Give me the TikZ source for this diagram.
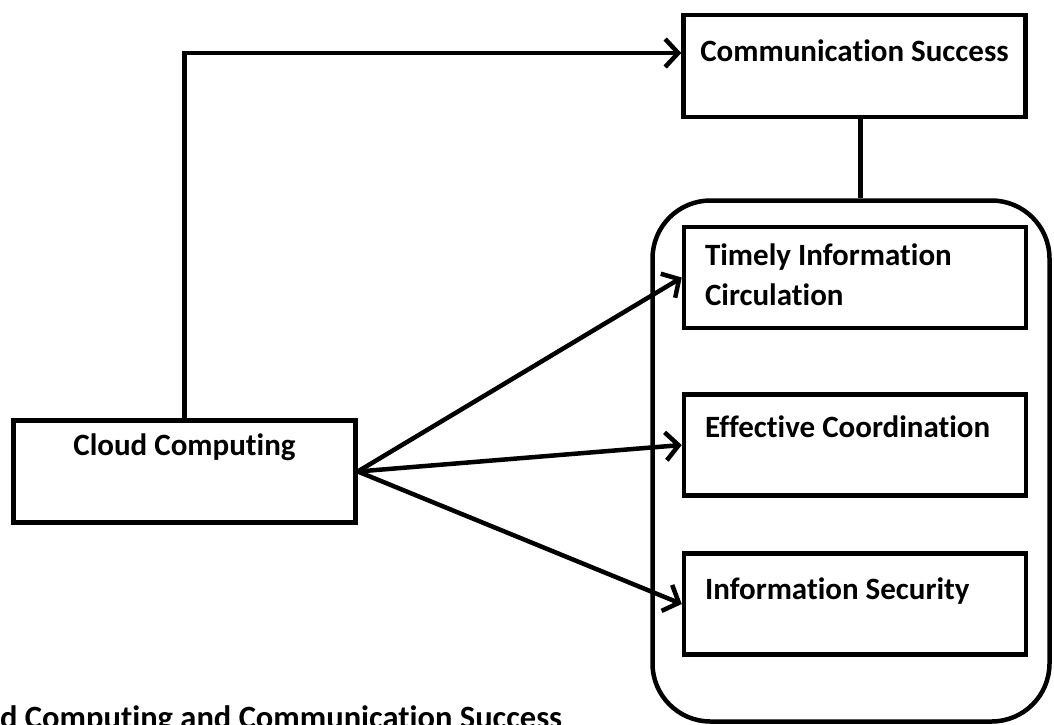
\documentclass[tikz,border=0pt]{standalone}
\usepackage{fontspec}
\setmainfont{Carlito}[Ligatures=NoCommon]
\usetikzlibrary{shapes.geometric, arrows.meta}
\tikzstyle{box} = [rectangle, draw=black, line width=4.5pt, minimum width=342pt, inner sep=0pt, font=\bfseries\fontsize{31}{40}\selectfont]
\tikzstyle{group} = [rectangle, rounded corners=58pt, draw=black, line width=4.5pt, minimum width=397pt, minimum height=521pt]
\tikzstyle{line} = [line width=4.5pt]
\tikzstyle{arrow} = [line width=4.5pt, -{Straight Barb[length=13pt,width=28pt]}]
\newcommand{\lefttext}[1]{\parbox[t]{300pt}{\raggedright #1}}

\begin{document}
\begin{tikzpicture}[x=1pt, y=1pt]
\useasboundingbox (0,0) rectangle (1054,-724);
\node (cloud) [box, text height=35pt, text depth=67pt] at (184.5,-471.5) {Cloud Computing};
\node (success) [box, text height=46pt, text depth=56pt] at (854.5,-66) {Communication Success};
\node (group) [group] at (851,-461) {};
\node (timely) [box, text height=38pt, text depth=63pt] at (855,-277.5) {\lefttext{Timely Information\\Circulation}};
\node (coord) [box, text height=43pt, text depth=58pt] at (855,-445) {\lefttext{Effective Coordination}};
\node (secure) [box, text height=46pt, text depth=55pt] at (855,-604) {\lefttext{Information Security}};
\node (caption) [anchor=base west, inner sep=0pt, font=\bfseries\fontsize{32.5}{38}\selectfont] at (0,-728) {d Computing and Communication Success};
\draw [arrow] (cloud.north) |- ([yshift=13pt]success.west);
\draw [line] ([xshift=6pt]success.south) -- ([xshift=6pt]success.south |- group.north);
\draw [arrow] (cloud.east) -- (timely.west);
\draw [arrow] (cloud.east) -- (coord.west);
\draw [arrow] (cloud.east) -- (secure.west);
\end{tikzpicture}
\end{document}
